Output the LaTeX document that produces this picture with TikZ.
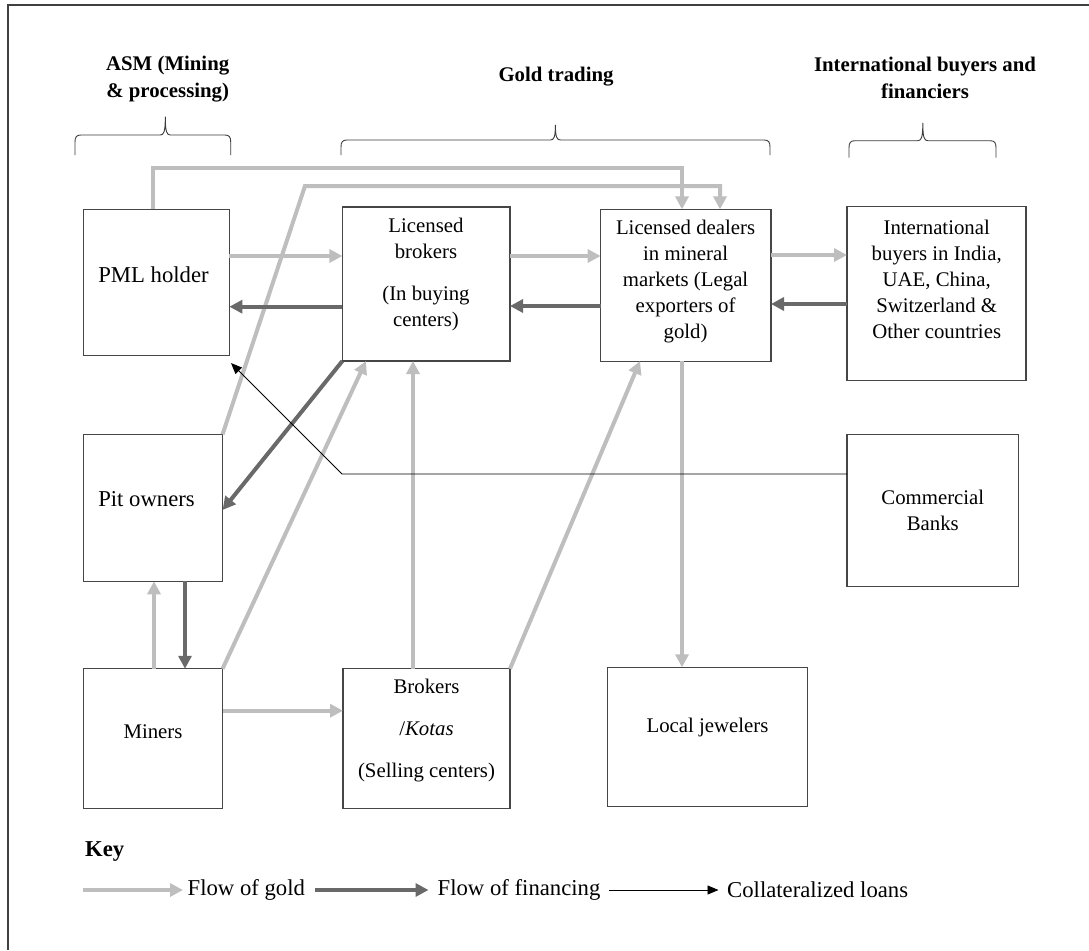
\documentclass[tikz,border=0pt]{standalone}
\usepackage{fontspec}
\setmainfont{Liberation Serif}
\usetikzlibrary{arrows.meta}
\definecolor{goldc}{RGB}{190,190,190}
\definecolor{finc}{RGB}{105,105,105}
\definecolor{boxc}{RGB}{70,70,70}
\definecolor{bracec}{RGB}{60,60,60}
\newcommand{\gbrace}[6]{% xl, xc, xr, yh, yend, ytop
  \draw[bracec, line width=0.9pt] (#1,#5) -- (#1,#4+7) .. controls (#1,#4+2) and (#1+1.5,#4) .. (#1+6,#4)
    -- (#2-5,#4) .. controls (#2-1.5,#4) and (#2,#4-3) .. (#2,#6)
    .. controls (#2,#4-3) and (#2+1.5,#4) .. (#2+5,#4)
    -- (#3-6,#4) .. controls (#3-1.5,#4) and (#3,#4+2) .. (#3,#4+7) -- (#3,#5);}
\tikzset{
 box/.style={draw=boxc, line width=1.1pt, inner sep=0pt, outer sep=0pt},
 txt/.style={inner sep=0pt, align=center, font=\fontsize{20.8}{26}\selectfont},
 bigtxt/.style={inner sep=0pt, align=center, font=\fontsize{22.7}{27}\selectfont},
 hdr/.style={inner sep=0pt, align=center, font=\fontsize{20.8}{26.5}\selectfont\bfseries},
 keyt/.style={inner sep=0pt, anchor=west, font=\fontsize{22.7}{27}\selectfont},
 goldA/.style={draw=goldc, line width=4pt, -{Triangle[length=13pt,width=13pt]}},
 finA/.style={draw=finc, line width=4pt, -{Triangle[length=13pt,width=13pt]}},
 loanA/.style={draw=black, line width=0.9pt, -{Triangle[length=11pt,width=9pt]}},
}
\begin{document}
\begin{tikzpicture}[x=1pt, y=-1pt]
\useasboundingbox (0,0) rectangle (1089,950);
\fill[white] (0,0) rectangle (1089,950);
% frame
\draw[black!75, line width=2pt] (8,950) -- (8,5) -- (1089,5);

% headers
\node[hdr] (asmT) at (167.7,79) {ASM (Mining\\\& processing)};
\node[hdr] (goldT) at (556,77) {Gold trading};
\node[hdr] (intT) at (925,78) {International buyers and\\financiers};
\gbrace{75}{165.3}{230.7}{135}{155}{116.7}
\gbrace{341}{555.4}{770}{140}{155}{125}
\gbrace{849}{922.8}{996}{140.7}{157.7}{123}

% boxes
\node[box, minimum width=146pt, minimum height=145.7pt] (pml) at (156.4,282.2) {};
\node[box, minimum width=167.6pt, minimum height=154pt] (lb) at (426.2,284) {};
\node[box, minimum width=170.4pt, minimum height=151.7pt] (ld) at (685.8,285.2) {};
\node[box, minimum width=179pt, minimum height=173.3pt] (ib) at (936.5,293.4) {};
\node[box, minimum width=139.1pt, minimum height=147pt] (pit) at (153,507.8) {};
\node[box, minimum width=171.6pt, minimum height=152.5pt] (cb) at (932.8,510.3) {};
\node[box, minimum width=139.1pt, minimum height=139.3pt] (mn) at (153,738.4) {};
\node[box, minimum width=167pt, minimum height=139.3pt] (kt) at (426.5,738.4) {};
\node[box, minimum width=199.5pt, minimum height=139pt] (lj) at (707.3,736.8) {};

% box texts
\node[bigtxt] (pmlT) at (153.5,275) {PML holder};
\node[txt] (lbT) at (426,274.5) {Licensed\\brokers\\[16pt](In buying\\centers)};
\node[txt] (ldT) at (685.6,282) {Licensed dealers\\in mineral\\markets (Legal\\exporters of\\gold)};
\node[txt] (ibT) at (936.7,279.7) {International\\buyers in India,\\UAE, China,\\Switzerland \&\\Other countries};
\node[bigtxt] (pitT) at (146.5,499) {Pit owners};
\node[txt] (cbT) at (932.8,510) {Commercial\\Banks};
\node[txt] (mnT) at (153,732) {Miners};
\node[txt] (ktT) at (426.5,731) {Brokers\\[16pt]/\textit{Kotas}\\[16pt](Selling centers)};
\node[txt] (ljT) at (707.5,727.4) {Local jewelers};

% flow of gold
\draw[goldA] (pml.east |- 0,256) -- (lb.west |- 0,256);
\draw[goldA] (lb.east |- 0,256) -- (ld.west |- 0,256);
\draw[goldA] (ld.east |- 0,255) -- (ib.west |- 0,255);
\draw[goldA] (pml.north -| 153,0) |- (682,168) -- (ld.north -| 682,0);
\coordinate (bend) at (305,186);
\draw[goldA] (pit.north east) -- (bend) -- (720,186) -- (ld.north -| 720,0);
\draw[goldA] (mn.north east) -- (lb.south -| 366,0);
\draw[goldA] (kt.north -| 413,0) -- (lb.south -| 413,0);
\draw[goldA] (kt.north east) -- (ld.south -| 640,0);
\draw[goldA] (ld.south -| 682,0) -- (lj.north -| 682,0);
\draw[goldA] (mn.east |- 0,710.7) -- (kt.west |- 0,710.7);
\draw[goldA] (mn.north -| 154,0) -- (pit.south -| 154,0);

% flow of financing
\draw[finA] (lb.west |- 0,306.7) -- (pml.east |- 0,306.7);
\draw[finA] (ld.west |- 0,306) -- (lb.east |- 0,306);
\draw[finA] (ib.west |- 0,304) -- (ld.east |- 0,304);
\draw[finA] (lb.south west) -- (pit.east |- 0,510);
\draw[finA] (pit.south -| 185,0) -- (mn.north -| 185,0);

% collateralized loans
\coordinate (kink) at (342,474);
\draw[loanA] (cb.west |- 0,474) -- (kink) -- ([shift={(1.6,8)}]pml.south east);

% key
\node[keyt, font=\fontsize{22.7}{27}\selectfont\bfseries] (keyT) at (85,852) {Key};
\coordinate (k1) at (83,890);
\node[keyt] (t1) at (187.5,890) {Flow of gold};
\draw[goldA] (k1) -- ([xshift=-4.5pt]t1.west);
\coordinate (k2) at (315,890);
\node[keyt] (t2) at (437.5,890) {Flow of financing};
\draw[finA] (k2) -- ([xshift=-9pt]t2.west);
\coordinate (k3) at (609,890);
\node[keyt] (t3) at (727,890) {Collateralized loans};
\draw[loanA] (k3) -- ([xshift=-8.5pt]t3.west);
\end{tikzpicture}
\end{document}
